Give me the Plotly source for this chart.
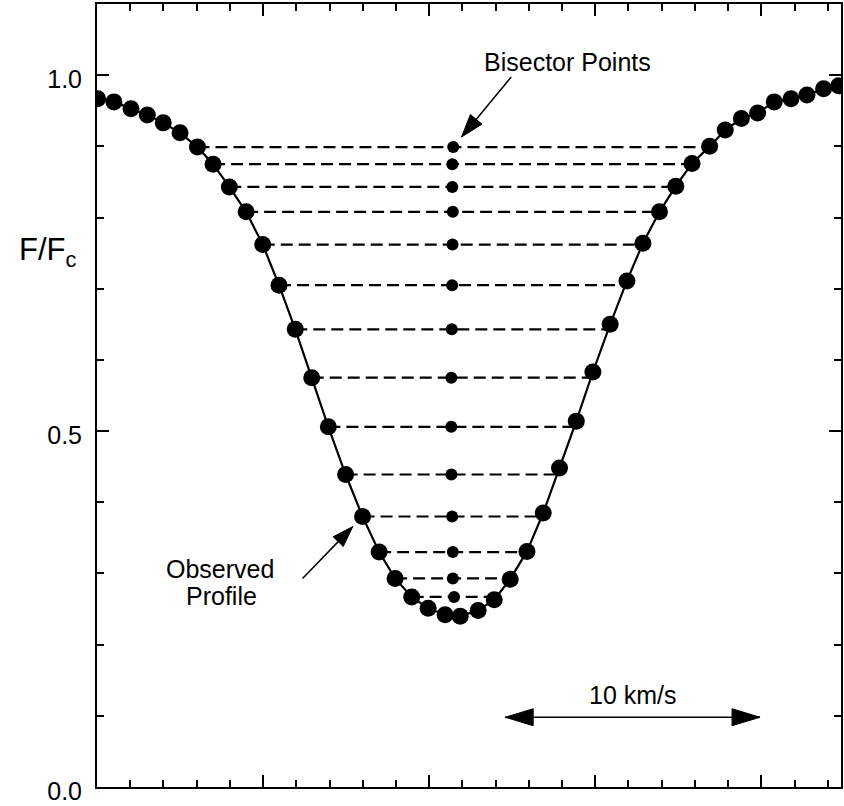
import numpy as np
import plotly.graph_objects as go

# Observed absorption-line profile: wavelength (Å) and normalised flux F/Fc
wavelength = [4600.0004, 4600.0102, 4600.0205, 4600.0303, 4600.0399, 4600.0500,
              4600.0605, 4600.0699, 4600.0797, 4600.0898, 4600.0998, 4600.1096,
              4600.1194, 4600.1293, 4600.1393, 4600.1497, 4600.1599, 4600.1699,
              4600.1795, 4600.1895, 4600.1994, 4600.2096, 4600.2187, 4600.2295,
              4600.2392, 4600.2488, 4600.2589, 4600.2687, 4600.2785, 4600.2886,
              4600.2986, 4600.3090, 4600.3191, 4600.3287, 4600.3387, 4600.3485,
              4600.3583, 4600.3689, 4600.3783, 4600.3880, 4600.3978, 4600.4078,
              4600.4179, 4600.4275, 4600.4375, 4600.4466]
flux = [0.967, 0.9625, 0.953, 0.944, 0.933, 0.919, 0.899, 0.875, 0.843, 0.808,
        0.762, 0.705, 0.643, 0.575, 0.506, 0.439, 0.380, 0.330, 0.293, 0.267,
        0.251, 0.242, 0.240, 0.248, 0.263, 0.292, 0.331, 0.385, 0.448, 0.514,
        0.583, 0.650, 0.711, 0.764, 0.808, 0.844, 0.876, 0.900, 0.923, 0.939,
        0.947, 0.9625, 0.967, 0.972, 0.981, 0.985]

# blue-wing samples used as bisector levels (first and one-past-last index)
bisector_first, bisector_stop = 6, 20

# y-axis labels
y_tick_vals = [0.0, 0.5, 1.0]
y_tick_text = ["0.0", "0.5", "1.0"]

# velocity scale bar
scale_kms = 10.0
scale_start = 4600.2458
scale_level = 0.098
c_kms = 299792.458

FONT = "Liberation Sans, Arial, Helvetica, sans-serif"

lam = np.array(wavelength)
f = np.array(flux)
core = int(np.argmin(f))

# bisector: midpoint between blue-wing sample and red wing at the same flux
levels = f[bisector_first:bisector_stop]
blue = lam[bisector_first:bisector_stop]
red = np.interp(levels, f[core:], lam[core:])
mid = 0.5 * (blue + red)

dash_x, dash_y = [], []
for b, r, lv in zip(blue, red, levels):
    dash_x += [b, r, None]
    dash_y += [lv, lv, None]


def pointer(x, y, dx, dy, standoff, head_len, head_w, width=1.5, shaft=True):
    """Arrow aimed at data point (x, y); tail sits (dx, dy) screen pixels away."""
    n = np.hypot(dx, dy)
    ux, uy = dx / n, -dy / n          # shape pixel space has y pointing up
    px, py = -uy, ux
    tx, ty = standoff * ux, standoff * uy
    bx, by = (standoff + head_len) * ux, (standoff + head_len) * uy
    hw = head_w / 2
    path = (f"M{tx:.2f},{ty:.2f} L{bx + px * hw:.2f},{by + py * hw:.2f} "
            f"L{bx - px * hw:.2f},{by - py * hw:.2f} Z")
    common = dict(xref="x", yref="y", xsizemode="pixel", ysizemode="pixel",
                  xanchor=x, yanchor=y, layer="above")
    out = [dict(type="path", path=path, fillcolor="black",
                line=dict(color="black", width=1), **common)]
    if shaft:
        s = standoff + 0.6 * head_len
        out.append(dict(type="line", x0=s * ux, y0=s * uy, x1=dx, y1=-dy,
                        line=dict(color="black", width=width), **common))
    return out


fig = go.Figure()
fig.add_trace(go.Scatter(
    x=dash_x, y=dash_y, mode="lines",
    line=dict(color="black", width=2.2, dash="12px,6px"),
    hoverinfo="skip", showlegend=False))
fig.add_trace(go.Scatter(
    x=lam, y=f, mode="lines+markers",
    line=dict(color="black", width=2.2),
    marker=dict(color="black", size=17),
    showlegend=False))
fig.add_trace(go.Scatter(
    x=mid, y=levels, mode="markers",
    marker=dict(color="black", size=12),
    showlegend=False))

scale_end = scale_start + scale_kms / c_kms * scale_start

shapes = []
shapes += pointer(mid[0], levels[0], 58, -70, 13, 23, 15)
shapes += pointer(lam[16], f[16], -60, 62, 14, 21, 14)
# velocity bar: shaft plus an outward head at each end
shapes.append(dict(type="line", xref="x", yref="y", x0=scale_start, x1=scale_end,
                   y0=scale_level, y1=scale_level, line=dict(color="black", width=1.5)))
shapes += pointer(scale_start, scale_level, 40, 0, 0, 28, 17, shaft=False)
shapes += pointer(scale_end, scale_level, -40, 0, 0, 28, 17, shaft=False)

annotations = [
    dict(x=0.5 * (scale_start + scale_end), y=0.129, text=f"{scale_kms:.0f} km/s",
         showarrow=False, font=dict(size=25)),
    dict(x=4600.2831, y=1.018, text="Bisector Points", showarrow=False,
         font=dict(size=25)),
    dict(x=4600.0740, y=0.306, text="Observed", showarrow=False, font=dict(size=25)),
    dict(x=4600.0752, y=0.268, text="Profile", showarrow=False, font=dict(size=25)),
    dict(x=-0.1075, y=0.712, xref="paper", yref="paper", xanchor="left",
         text="F/F<sub>c</sub>", showarrow=False, font=dict(size=31)),
]

fig.update_layout(
    width=844, height=806, autosize=False,
    margin=dict(l=97, r=3, t=4, b=19, autoexpand=False),
    paper_bgcolor="white", plot_bgcolor="white",
    font=dict(family=FONT, color="black", size=25),
    annotations=annotations, shapes=shapes,
    xaxis=dict(
        range=[4600.0, 4600.448], showgrid=False, zeroline=False,
        showline=True, linecolor="black", linewidth=2, mirror="allticks",
        ticks="inside", ticklen=12, tickwidth=2, tickcolor="black",
        tick0=4600.0, dtick=0.1, showticklabels=False, automargin=False,
        minor=dict(ticks="inside", ticklen=7, tickwidth=1.5, tickcolor="black",
                   dtick=0.02, tick0=4600.0, showgrid=False),
    ),
    yaxis=dict(
        range=[0, 1.1], showgrid=False, zeroline=False,
        showline=True, linecolor="black", linewidth=2, mirror="allticks",
        ticks="inside", ticklen=12, tickwidth=2, tickcolor="black",
        tickmode="array", tickvals=y_tick_vals, ticktext=y_tick_text,
        tickfont=dict(size=25), ticklabelshift=4, ticklabelstandoff=8,
        ticklabeloverflow="allow", automargin=False,
        minor=dict(ticks="inside", ticklen=7, tickwidth=1.5, tickcolor="black",
                   dtick=0.1, tick0=0, showgrid=False),
    ),
)

fig.write_html("out.html")
